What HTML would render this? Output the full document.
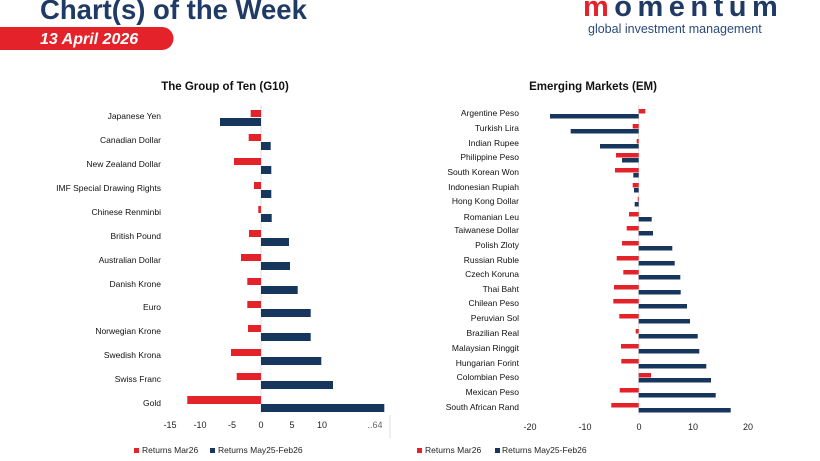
<!DOCTYPE html>
<html><head><meta charset="utf-8"><style>
body{margin:0;background:#fff;}
svg{display:block;font-family:"Liberation Sans",sans-serif;}
</style></head><body>
<svg width="820" height="461" viewBox="0 0 820 461" xmlns="http://www.w3.org/2000/svg">
<rect width="820" height="461" fill="#fff"/>
<text x="40" y="19" font-size="27.5" font-weight="bold" fill="#1f3a64">Chart(s) of the Week</text>
<path d="M0 27 H162 A11.5 11.5 0 0 1 162 50 H0 Z" fill="#e3222a"/>
<text x="40" y="44" font-size="16" font-weight="bold" font-style="italic" fill="#fff">13 April 2026</text>
<text x="583" y="16" font-size="29" font-weight="bold" fill="#1f3a64" letter-spacing="5.5"><tspan fill="#e3222a">m</tspan>omentum</text>
<text x="588" y="33" font-size="12.5" fill="#2b4a7a">global investment management</text>

<text x="225" y="90" font-size="11.5" font-weight="bold" text-anchor="middle" fill="#111">The Group of Ten (G10)</text>
<text x="593" y="90" font-size="11.5" font-weight="bold" text-anchor="middle" fill="#111">Emerging Markets (EM)</text>

<g font-size="8.5" fill="#111" text-anchor="end">
<text x="161" y="119">Japanese Yen</text>
<text x="161" y="143">Canadian Dollar</text>
<text x="161" y="167">New Zealand Dollar</text>
<text x="161" y="191">IMF Special Drawing Rights</text>
<text x="161" y="215">Chinese Renminbi</text>
<text x="161" y="239">British Pound</text>
<text x="161" y="263">Australian Dollar</text>
<text x="161" y="287">Danish Krone</text>
<text x="161" y="310">Euro</text>
<text x="161" y="334">Norwegian Krone</text>
<text x="161" y="358">Swedish Krona</text>
<text x="161" y="382">Swiss Franc</text>
<text x="161" y="406">Gold</text>
</g>
<line x1="261" y1="105" x2="261" y2="415" stroke="#ddd" stroke-width="1"/>
<g fill="#e3222a">
<rect x="250.7" y="110" width="10.3" height="7"/>
<rect x="248.7" y="134" width="12.3" height="7"/>
<rect x="234" y="158" width="27" height="7"/>
<rect x="254" y="182" width="7" height="7"/>
<rect x="258.3" y="206" width="2.7" height="7"/>
<rect x="249" y="230" width="12" height="7"/>
<rect x="241" y="254" width="20" height="7"/>
<rect x="247.3" y="278" width="13.7" height="7"/>
<rect x="247.3" y="301" width="13.7" height="7"/>
<rect x="248" y="325" width="13" height="7"/>
<rect x="231" y="349" width="30" height="7"/>
<rect x="236.7" y="373" width="24.3" height="7"/>
<rect x="187.3" y="396" width="73.7" height="8"/>
</g>
<g fill="#17365d">
<rect x="220" y="118" width="41" height="8"/>
<rect x="261" y="142" width="9.7" height="8"/>
<rect x="261" y="166" width="10.3" height="8"/>
<rect x="261" y="190" width="10.3" height="8"/>
<rect x="261" y="214" width="10.7" height="8"/>
<rect x="261" y="238" width="28" height="8"/>
<rect x="261" y="262" width="29" height="8"/>
<rect x="261" y="286" width="36.7" height="8"/>
<rect x="261" y="309" width="49.7" height="8"/>
<rect x="261" y="333" width="49.7" height="8"/>
<rect x="261" y="357" width="60.3" height="8"/>
<rect x="261" y="381" width="72" height="8"/>
<rect x="261" y="404" width="123.3" height="8"/>
</g>
<g font-size="9" fill="#222" text-anchor="middle">
<text x="170" y="428">-15</text><text x="200" y="428">-10</text><text x="232" y="428">-5</text>
<text x="261" y="428">0</text><text x="292" y="428">5</text><text x="322" y="428">10</text>
<text x="375" y="428" fill="#666">..64</text>
</g>
<line x1="390" y1="415" x2="390" y2="438" stroke="#ddd"/>
<rect x="134" y="448" width="5" height="5" fill="#e3222a"/>
<text x="142" y="453" font-size="8.5" fill="#222">Returns Mar26</text>
<rect x="210" y="448" width="5" height="5" fill="#17365d"/>
<text x="218" y="453" font-size="8.5" fill="#222">Returns May25-Feb26</text>

<g font-size="8.5" fill="#111" text-anchor="end">
<text x="519" y="116">Argentine Peso</text>
<text x="519" y="131">Turkish Lira</text>
<text x="519" y="146">Indian Rupee</text>
<text x="519" y="160">Philippine Peso</text>
<text x="519" y="175">South Korean Won</text>
<text x="519" y="190">Indonesian Rupiah</text>
<text x="519" y="204">Hong Kong Dollar</text>
<text x="519" y="220">Romanian Leu</text>
<text x="519" y="233">Taiwanese Dollar</text>
<text x="519" y="248">Polish Zloty</text>
<text x="519" y="263">Russian Ruble</text>
<text x="519" y="277">Czech Koruna</text>
<text x="519" y="292">Thai Baht</text>
<text x="519" y="306">Chilean Peso</text>
<text x="519" y="321">Peruvian Sol</text>
<text x="519" y="336">Brazilian Real</text>
<text x="519" y="351">Malaysian Ringgit</text>
<text x="519" y="366">Hungarian Forint</text>
<text x="519" y="380">Colombian Peso</text>
<text x="519" y="395">Mexican Peso</text>
<text x="519" y="410">South African Rand</text>
</g>
<line x1="638.7" y1="105" x2="638.7" y2="415" stroke="#ddd"/>
<g fill="#e3222a">
<rect x="638.7" y="109" width="6.6" height="4.5"/>
<rect x="632.7" y="124" width="6" height="4.5"/>
<rect x="636.7" y="139" width="2" height="4.5"/>
<rect x="616" y="153" width="22.7" height="4.5"/>
<rect x="615" y="168" width="23.7" height="4.5"/>
<rect x="632.7" y="183" width="6" height="4.5"/>
<rect x="637.7" y="197" width="1" height="4.5"/>
<rect x="629" y="212" width="9.7" height="4.5"/>
<rect x="626.7" y="226" width="12" height="4.5"/>
<rect x="622" y="241" width="16.7" height="4.5"/>
<rect x="616.7" y="256" width="22" height="4.5"/>
<rect x="623.3" y="270" width="15.4" height="4.5"/>
<rect x="614" y="285" width="24.7" height="4.5"/>
<rect x="613.3" y="299" width="25.4" height="4.5"/>
<rect x="619.3" y="314" width="19.4" height="4.5"/>
<rect x="635.7" y="329" width="3" height="4.5"/>
<rect x="621" y="344" width="17.7" height="4.5"/>
<rect x="621.3" y="359" width="17.4" height="4.5"/>
<rect x="638.7" y="373" width="12.3" height="4.5"/>
<rect x="619.7" y="388" width="19" height="4.5"/>
<rect x="611.3" y="403" width="27.4" height="4.5"/>
</g>
<g fill="#17365d">
<rect x="550" y="114" width="88.7" height="4.5"/>
<rect x="570.7" y="129" width="68" height="4.5"/>
<rect x="600" y="144" width="38.7" height="4.5"/>
<rect x="622" y="158" width="16.7" height="4.5"/>
<rect x="633.3" y="173" width="5.4" height="4.5"/>
<rect x="634" y="188" width="4.7" height="4.5"/>
<rect x="634.7" y="202" width="4" height="4.5"/>
<rect x="638.7" y="217" width="13" height="4.5"/>
<rect x="638.7" y="231" width="14.3" height="4.5"/>
<rect x="638.7" y="246" width="33.6" height="4.5"/>
<rect x="638.7" y="261" width="36" height="4.5"/>
<rect x="638.7" y="275" width="41.6" height="4.5"/>
<rect x="638.7" y="290" width="42" height="4.5"/>
<rect x="638.7" y="304" width="48.3" height="4.5"/>
<rect x="638.7" y="319" width="51.3" height="4.5"/>
<rect x="638.7" y="334" width="59" height="4.5"/>
<rect x="638.7" y="349" width="60.6" height="4.5"/>
<rect x="638.7" y="364" width="67.6" height="4.5"/>
<rect x="638.7" y="378" width="72.3" height="4.5"/>
<rect x="638.7" y="393" width="77" height="4.5"/>
<rect x="638.7" y="408" width="92" height="4.5"/>
</g>
<g font-size="9" fill="#222" text-anchor="middle">
<text x="530" y="430">-20</text><text x="585" y="430">-10</text><text x="639" y="430">0</text>
<text x="693" y="430">10</text><text x="748" y="430">20</text>
</g>
<rect x="417" y="448" width="5" height="5" fill="#e3222a"/>
<text x="425" y="453" font-size="8.5" fill="#222">Returns Mar26</text>
<rect x="495" y="448" width="5" height="5" fill="#17365d"/>
<text x="502" y="453" font-size="8.5" fill="#222">Returns May25-Feb26</text>
</svg>
</body></html>
